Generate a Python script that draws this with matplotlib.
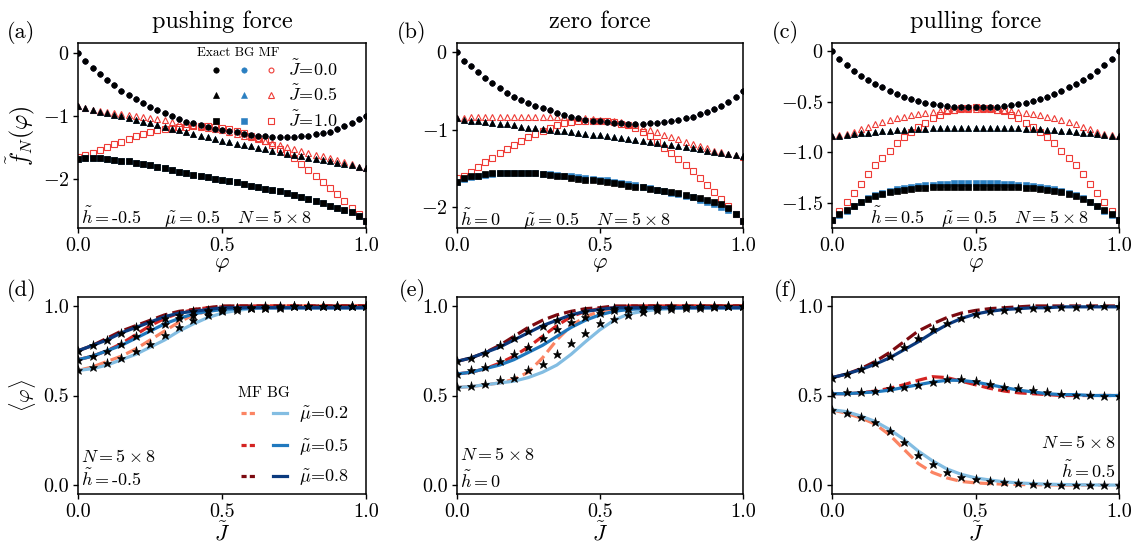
import numpy as np
import matplotlib
matplotlib.use("Agg")
import matplotlib.pyplot as plt
from matplotlib.lines import Line2D
from matplotlib.legend_handler import HandlerTuple

plt.rcParams["font.family"] = "serif"
plt.rcParams["font.serif"] = ["cmr10"]
plt.rcParams["mathtext.fontset"] = "cm"
plt.rcParams["axes.formatter.use_mathtext"] = True
plt.rcParams["axes.unicode_minus"] = False

# ─── DATA: top row, f_N(phi) at phi = k/40 ───────────────────────────────────
phi = [0.0, 0.025, 0.05, 0.075, 0.1, 0.125, 0.15, 0.175, 0.2, 0.225,
       0.25, 0.275, 0.3, 0.325, 0.35, 0.375, 0.4, 0.425, 0.45, 0.475,
       0.5, 0.525, 0.55, 0.575, 0.6, 0.625, 0.65, 0.675, 0.7, 0.725,
       0.75, 0.775, 0.8, 0.825, 0.85, 0.875, 0.9, 0.925, 0.95, 0.975, 1.0]

# (a) pushing force, h = -0.5
a_ex_j0 = [0.00, -0.13, -0.24, -0.34, -0.44, -0.52, -0.60, -0.67, -0.74, -0.80,
           -0.86, -0.91, -0.96, -1.01, -1.05, -1.09, -1.12, -1.15, -1.18, -1.20,
           -1.22, -1.24, -1.26, -1.28, -1.30, -1.31, -1.32, -1.33, -1.33, -1.33,
           -1.33, -1.32, -1.31, -1.29, -1.27, -1.25, -1.21, -1.16, -1.11, -1.05,
           -1.00]
a_ex_j05 = [-0.85, -0.88, -0.91, -0.94, -0.96, -0.99, -1.01, -1.04, -1.07, -1.09,
            -1.12, -1.15, -1.17, -1.20, -1.23, -1.25, -1.28, -1.31, -1.34, -1.36,
            -1.39, -1.41, -1.44, -1.46, -1.48, -1.51, -1.53, -1.55, -1.57, -1.60,
            -1.62, -1.64, -1.66, -1.68, -1.70, -1.72, -1.74, -1.76, -1.78, -1.81,
            -1.83]
a_ex_j1 = [-1.68, -1.67, -1.67, -1.67, -1.68, -1.70, -1.71, -1.72, -1.74, -1.76,
           -1.78, -1.80, -1.83, -1.85, -1.88, -1.90, -1.93, -1.95, -1.97, -2.00,
           -2.02, -2.03, -2.05, -2.08, -2.11, -2.13, -2.15, -2.17, -2.19, -2.22,
           -2.25, -2.28, -2.31, -2.34, -2.38, -2.42, -2.45, -2.48, -2.52, -2.58,
           -2.66]
a_mf_j05 = [-0.85, -0.88, -0.90, -0.92, -0.94, -0.96, -0.97, -0.99, -1.00, -1.02,
            -1.04, -1.05, -1.07, -1.09, -1.11, -1.13, -1.15, -1.17, -1.19, -1.21,
            -1.23, -1.26, -1.29, -1.31, -1.34, -1.37, -1.40, -1.43, -1.46, -1.49,
            -1.52, -1.55, -1.58, -1.61, -1.64, -1.67, -1.70, -1.73, -1.76, -1.80,
            -1.83]
a_mf_j1 = [-1.65, -1.62, -1.58, -1.54, -1.49, -1.45, -1.41, -1.36, -1.32, -1.29,
           -1.26, -1.23, -1.21, -1.20, -1.18, -1.17, -1.16, -1.16, -1.16, -1.17,
           -1.19, -1.21, -1.24, -1.27, -1.31, -1.35, -1.40, -1.46, -1.52, -1.59,
           -1.67, -1.76, -1.85, -1.95, -2.04, -2.14, -2.24, -2.34, -2.45, -2.55,
           -2.66]
# BG and MF at J=0 (and BG elsewhere) sit on top of the exact points
a_bg_j0, a_bg_j05, a_bg_j1 = a_ex_j0, a_ex_j05, a_ex_j1
a_mf_j0 = a_ex_j0

# (b) zero force, h = 0
b_ex_j0 = [0.00, -0.11, -0.18, -0.26, -0.33, -0.40, -0.46, -0.52, -0.57, -0.61,
           -0.65, -0.69, -0.72, -0.75, -0.78, -0.81, -0.83, -0.85, -0.87, -0.88,
           -0.89, -0.90, -0.91, -0.91, -0.92, -0.92, -0.92, -0.91, -0.91, -0.90,
           -0.88, -0.87, -0.85, -0.83, -0.80, -0.77, -0.73, -0.69, -0.64, -0.58,
           -0.50]
b_ex_j05 = [-0.85, -0.87, -0.88, -0.89, -0.90, -0.91, -0.92, -0.93, -0.94, -0.96,
            -0.97, -0.98, -0.99, -1.00, -1.01, -1.02, -1.03, -1.04, -1.05, -1.06,
            -1.07, -1.08, -1.09, -1.10, -1.12, -1.13, -1.14, -1.15, -1.17, -1.18,
            -1.19, -1.21, -1.22, -1.24, -1.25, -1.27, -1.28, -1.30, -1.31, -1.33,
            -1.34]
b_ex_j1 = [-1.67, -1.62, -1.60, -1.59, -1.57, -1.56, -1.56, -1.55, -1.55, -1.55,
           -1.55, -1.56, -1.57, -1.58, -1.59, -1.60, -1.62, -1.63, -1.64, -1.65,
           -1.66, -1.67, -1.69, -1.70, -1.72, -1.73, -1.74, -1.76, -1.77, -1.79,
           -1.80, -1.82, -1.84, -1.86, -1.88, -1.90, -1.93, -1.96, -2.01, -2.08,
           -2.17]
b_bg_j1 = [-1.67, -1.63, -1.61, -1.59, -1.58, -1.57, -1.56, -1.56, -1.56, -1.56,
           -1.56, -1.56, -1.57, -1.57, -1.58, -1.59, -1.60, -1.61, -1.62, -1.63,
           -1.64, -1.65, -1.67, -1.68, -1.70, -1.71, -1.73, -1.75, -1.77, -1.79,
           -1.81, -1.83, -1.85, -1.87, -1.90, -1.93, -1.96, -1.99, -2.03, -2.09,
           -2.17]
b_mf_j05 = [-0.85, -0.85, -0.84, -0.84, -0.84, -0.83, -0.83, -0.83, -0.83, -0.83,
            -0.83, -0.83, -0.83, -0.83, -0.83, -0.84, -0.84, -0.85, -0.85, -0.86,
            -0.87, -0.88, -0.89, -0.90, -0.92, -0.94, -0.97, -1.00, -1.03, -1.06,
            -1.09, -1.12, -1.15, -1.18, -1.21, -1.24, -1.27, -1.29, -1.31, -1.33,
            -1.35]
b_mf_j1 = [-1.62, -1.59, -1.54, -1.48, -1.42, -1.36, -1.30, -1.25, -1.19, -1.14,
           -1.09, -1.05, -1.01, -0.97, -0.94, -0.91, -0.90, -0.89, -0.88, -0.88,
           -0.88, -0.89, -0.90, -0.92, -0.94, -0.98, -1.03, -1.08, -1.15, -1.23,
           -1.30, -1.37, -1.45, -1.53, -1.62, -1.71, -1.80, -1.89, -1.98, -2.08,
           -2.17]
b_bg_j0, b_bg_j05 = b_ex_j0, b_ex_j05
b_mf_j0 = b_ex_j0

# (c) pulling force, h = 0.5
c_ex_j0 = [0.00, -0.08, -0.14, -0.20, -0.25, -0.29, -0.33, -0.36, -0.39, -0.42,
           -0.45, -0.47, -0.49, -0.51, -0.52, -0.53, -0.54, -0.55, -0.55, -0.55,
           -0.55, -0.55, -0.55, -0.55, -0.54, -0.53, -0.52, -0.51, -0.49, -0.47,
           -0.45, -0.42, -0.39, -0.36, -0.33, -0.29, -0.25, -0.20, -0.14, -0.08,
           0.00]
c_ex_j05 = [-0.84, -0.84, -0.83, -0.82, -0.81, -0.81, -0.80, -0.79, -0.79, -0.78,
            -0.78, -0.77, -0.77, -0.77, -0.76, -0.76, -0.76, -0.76, -0.76, -0.76,
            -0.76, -0.76, -0.76, -0.76, -0.76, -0.76, -0.76, -0.77, -0.77, -0.77,
            -0.78, -0.78, -0.79, -0.79, -0.80, -0.81, -0.81, -0.82, -0.83, -0.84,
            -0.84]
c_ex_j1 = [-1.67, -1.61, -1.57, -1.53, -1.49, -1.46, -1.43, -1.41, -1.39, -1.38,
           -1.37, -1.36, -1.35, -1.35, -1.34, -1.34, -1.34, -1.34, -1.34, -1.34,
           -1.34, -1.34, -1.34, -1.34, -1.34, -1.34, -1.34, -1.35, -1.35, -1.36,
           -1.37, -1.38, -1.39, -1.41, -1.43, -1.46, -1.49, -1.53, -1.57, -1.61,
           -1.67]
c_bg_j1 = [-1.67, -1.62, -1.58, -1.53, -1.49, -1.45, -1.42, -1.40, -1.38, -1.36,
           -1.35, -1.34, -1.33, -1.32, -1.32, -1.31, -1.31, -1.30, -1.30, -1.30,
           -1.30, -1.30, -1.30, -1.30, -1.31, -1.31, -1.32, -1.32, -1.33, -1.34,
           -1.35, -1.36, -1.38, -1.40, -1.42, -1.45, -1.49, -1.53, -1.58, -1.62,
           -1.67]
c_mf_j05 = [-0.84, -0.83, -0.82, -0.80, -0.77, -0.75, -0.72, -0.70, -0.68, -0.66,
            -0.65, -0.63, -0.62, -0.61, -0.60, -0.59, -0.58, -0.58, -0.57, -0.57,
            -0.57, -0.57, -0.57, -0.58, -0.58, -0.59, -0.60, -0.61, -0.62, -0.63,
            -0.65, -0.66, -0.68, -0.70, -0.72, -0.75, -0.77, -0.80, -0.82, -0.83,
            -0.84]
c_mf_j1 = [-1.67, -1.58, -1.49, -1.40, -1.31, -1.22, -1.13, -1.06, -0.99, -0.91,
           -0.85, -0.80, -0.75, -0.71, -0.66, -0.63, -0.59, -0.58, -0.56, -0.56,
           -0.55, -0.56, -0.56, -0.58, -0.59, -0.63, -0.66, -0.71, -0.75, -0.80,
           -0.85, -0.91, -0.99, -1.06, -1.13, -1.22, -1.31, -1.40, -1.49, -1.58,
           -1.67]
c_bg_j0, c_bg_j05 = c_ex_j0, c_ex_j05
c_mf_j0 = c_ex_j0

# ─── DATA: bottom row, <phi> vs J ────────────────────────────────────────────
J = [0.0, 0.05, 0.1, 0.15, 0.2, 0.25, 0.3, 0.35, 0.4, 0.45,
     0.5, 0.55, 0.6, 0.65, 0.7, 0.75, 0.8, 0.85, 0.9, 0.95, 1.0]

# (d) h = -0.5
d_bg_02 = [0.64, 0.65, 0.67, 0.70, 0.73, 0.77, 0.81, 0.86, 0.90, 0.935, 0.96,
           0.975, 0.985, 0.99, 0.99, 0.99, 0.99, 0.99, 0.99, 0.99, 0.99]
d_mf_02 = [0.64, 0.66, 0.69, 0.72, 0.76, 0.81, 0.86, 0.91, 0.95, 0.97, 0.985,
           0.99, 0.995, 1.0, 1.0, 1.0, 1.0, 1.0, 1.0, 1.0, 1.0]
d_ex_02 = [0.64, 0.66, 0.68, 0.71, 0.75, 0.79, 0.84, 0.88, 0.92, 0.95, 0.97,
           0.98, 0.99, 0.99, 0.99, 1.0, 1.0, 1.0, 1.0, 1.0, 1.0]
d_bg_05 = [0.70, 0.72, 0.75, 0.78, 0.82, 0.86, 0.90, 0.93, 0.955, 0.97, 0.98,
           0.985, 0.99, 0.99, 0.99, 0.99, 0.99, 0.99, 0.99, 0.99, 0.99]
d_mf_05 = [0.70, 0.72, 0.75, 0.79, 0.84, 0.89, 0.93, 0.96, 0.98, 0.99, 0.995,
           1.0, 1.0, 1.0, 1.0, 1.0, 1.0, 1.0, 1.0, 1.0, 1.0]
d_ex_05 = [0.70, 0.72, 0.75, 0.79, 0.83, 0.87, 0.90, 0.93, 0.95, 0.97, 0.98,
           0.99, 0.99, 0.99, 0.995, 1.0, 1.0, 1.0, 1.0, 1.0, 1.0]
d_bg_08 = [0.75, 0.78, 0.81, 0.85, 0.88, 0.91, 0.94, 0.96, 0.97, 0.98, 0.99,
           0.99, 0.99, 0.99, 0.99, 0.99, 0.99, 0.99, 0.99, 0.99, 0.99]
d_mf_08 = [0.75, 0.78, 0.82, 0.86, 0.89, 0.92, 0.95, 0.97, 0.98, 0.99, 1.0,
           1.0, 1.0, 1.0, 1.0, 1.0, 1.0, 1.0, 1.0, 1.0, 1.0]
d_ex_08 = [0.75, 0.78, 0.81, 0.85, 0.88, 0.91, 0.93, 0.95, 0.97, 0.98, 0.99,
           0.99, 0.995, 1.0, 1.0, 1.0, 1.0, 1.0, 1.0, 1.0, 1.0]

# (e) h = 0
e_bg_02 = [0.545, 0.55, 0.56, 0.57, 0.58, 0.60, 0.63, 0.67, 0.73, 0.80, 0.866,
           0.92, 0.955, 0.97, 0.98, 0.985, 0.99, 0.99, 0.99, 0.99, 0.99]
e_mf_02 = [0.545, 0.55, 0.56, 0.57, 0.59, 0.63, 0.71, 0.81, 0.89, 0.94, 0.97,
           0.985, 0.99, 1.0, 1.0, 1.0, 1.0, 1.0, 1.0, 1.0, 1.0]
e_ex_02 = [0.545, 0.553, 0.565, 0.587, 0.60, 0.64, 0.675, 0.73, 0.795, 0.85, 0.905,
           0.925, 0.95, 0.965, 0.98, 0.985, 0.99, 0.99, 0.995, 1.0, 1.0]
e_bg_05 = [0.62, 0.63, 0.65, 0.67, 0.70, 0.74, 0.78, 0.83, 0.88, 0.92, 0.95,
           0.97, 0.98, 0.985, 0.99, 0.99, 0.99, 0.99, 0.99, 0.99, 0.99]
e_mf_05 = [0.62, 0.63, 0.65, 0.68, 0.72, 0.77, 0.83, 0.89, 0.94, 0.97, 0.985,
           0.99, 1.0, 1.0, 1.0, 1.0, 1.0, 1.0, 1.0, 1.0, 1.0]
e_ex_05 = [0.62, 0.64, 0.66, 0.69, 0.73, 0.77, 0.82, 0.87, 0.91, 0.94, 0.96,
           0.975, 0.985, 0.99, 0.99, 0.995, 1.0, 1.0, 1.0, 1.0, 1.0]
e_bg_08 = [0.69, 0.71, 0.74, 0.77, 0.81, 0.85, 0.89, 0.92, 0.95, 0.97, 0.98,
           0.99, 0.99, 0.99, 0.99, 0.99, 0.99, 0.99, 0.99, 0.99, 0.99]
e_mf_08 = [0.69, 0.71, 0.74, 0.78, 0.83, 0.88, 0.92, 0.95, 0.97, 0.985, 0.99,
           1.0, 1.0, 1.0, 1.0, 1.0, 1.0, 1.0, 1.0, 1.0, 1.0]
e_ex_08 = [0.69, 0.71, 0.74, 0.78, 0.82, 0.86, 0.89, 0.92, 0.95, 0.97, 0.98,
           0.99, 0.99, 0.995, 1.0, 1.0, 1.0, 1.0, 1.0, 1.0, 1.0]

# (f) h = 0.5
f_bg_02 = [0.42, 0.41, 0.385, 0.355, 0.31, 0.255, 0.19, 0.135, 0.09, 0.06, 0.04,
           0.028, 0.018, 0.012, 0.008, 0.005, 0.003, 0.002, 0.001, 0.0, 0.0]
f_mf_02 = [0.42, 0.40, 0.375, 0.34, 0.28, 0.20, 0.12, 0.07, 0.04, 0.02, 0.012,
           0.008, 0.005, 0.003, 0.002, 0.001, 0.0, 0.0, 0.0, 0.0, 0.0]
f_ex_02 = [0.42, 0.405, 0.38, 0.35, 0.30, 0.24, 0.17, 0.117, 0.075, 0.047, 0.034,
           0.024, 0.015, 0.01, 0.006, 0.004, 0.003, 0.002, 0.001, 0.0, 0.0]
f_bg_05 = [0.51, 0.51, 0.515, 0.52, 0.53, 0.545, 0.56, 0.575, 0.585, 0.585, 0.575,
           0.56, 0.545, 0.53, 0.52, 0.51, 0.505, 0.505, 0.50, 0.50, 0.50]
f_mf_05 = [0.51, 0.51, 0.515, 0.525, 0.54, 0.56, 0.585, 0.605, 0.60, 0.58, 0.56,
           0.54, 0.525, 0.515, 0.51, 0.505, 0.50, 0.50, 0.50, 0.50, 0.50]
f_ex_05 = [0.51, 0.518, 0.52, 0.525, 0.54, 0.545, 0.56, 0.577, 0.59, 0.59, 0.58,
           0.565, 0.55, 0.54, 0.53, 0.52, 0.51, 0.505, 0.505, 0.50, 0.50]
f_bg_08 = [0.60, 0.62, 0.645, 0.675, 0.71, 0.755, 0.80, 0.85, 0.895, 0.93, 0.955,
           0.97, 0.98, 0.985, 0.99, 0.99, 0.995, 0.995, 0.995, 0.995, 0.995]
f_mf_08 = [0.60, 0.62, 0.65, 0.69, 0.74, 0.80, 0.86, 0.90, 0.935, 0.96, 0.975,
           0.985, 0.99, 0.995, 1.0, 1.0, 1.0, 1.0, 1.0, 1.0, 1.0]
f_ex_08 = [0.60, 0.62, 0.646, 0.68, 0.72, 0.77, 0.82, 0.87, 0.905, 0.935, 0.955,
           0.97, 0.98, 0.985, 0.99, 0.99, 0.995, 0.995, 1.0, 1.0, 1.0]

# ─── STYLE ───────────────────────────────────────────────────────────────────
BG_BLUE = "#2a7fc1"
MF_RED = "#ee3b36"
MARKERS = ["o", "^", "s"]
MF_SIZES = [3.5, 4.3, 4.3]
J_LABELS = [r"$\tilde{J}\!=\!0.0$", r"$\tilde{J}\!=\!0.5$", r"$\tilde{J}\!=\!1.0$"]
MF_COLORS = ["#fb8463", "#d42422", "#7c0a10"]
BG_COLORS = ["#83bde2", "#2079be", "#0b3a7e"]
MU_LABELS = [r"$\tilde{\mu}\!=\!0.2$", r"$\tilde{\mu}\!=\!0.5$", r"$\tilde{\mu}\!=\!0.8$"]
FS = 13
TICK_FS = 14.5
EX_KW = dict(ls="none", ms=3.9, mew=0.5, color="black")
BG_KW = dict(ls="none", ms=3.9, mew=0.4, color=BG_BLUE)
MF_KW = dict(ls="none", mfc="none", mec=MF_RED, mew=0.8)

W, H = 1134, 543


def px_axes(fig, x0, y0, x1, y1):
    """Axes from pixel box (top-left origin)."""
    return fig.add_axes([x0 / W, 1 - y1 / H, (x1 - x0) / W, (y1 - y0) / H])


def plot_top(ax, ex, bg, mf):
    # MF underneath, exact on top
    for k in range(3):
        ax.plot(phi, mf[k], marker=MARKERS[k], ms=MF_SIZES[k], **MF_KW)
    for k in range(3):
        ax.plot(phi, bg[k], marker=MARKERS[k], **BG_KW)
    for k in range(3):
        ax.plot(phi, ex[k], marker=MARKERS[k], **EX_KW)
    ax.set_xlim(0, 1)
    ax.set_xticks([0, 0.5, 1.0])
    ax.set_xticklabels(["0.0", "0.5", "1.0"])
    ax.set_xlabel(r"$\varphi$", fontsize=16, labelpad=0)


def plot_bottom(ax, ex, bg, mf):
    for k in range(3):
        ax.plot(J, mf[k], ls="--", lw=2.3, color=MF_COLORS[k])
    for k in range(3):
        ax.plot(J, bg[k], ls="-", lw=2.3, color=BG_COLORS[k])
    for k in range(3):
        ax.plot(J, ex[k], ls="none", marker="*", ms=6.5, mew=0.4, color="black")
    ax.set_xlim(0, 1)
    ax.set_ylim(-0.05, 1.05)
    ax.set_xticks([0, 0.5, 1.0])
    ax.set_xticklabels(["0.0", "0.5", "1.0"])
    ax.set_yticks([0, 0.5, 1.0])
    ax.set_yticklabels(["0.0", "0.5", "1.0"])
    ax.set_xlabel(r"$\tilde{J}$", fontsize=16, labelpad=0)


fig = plt.figure(figsize=(W / 100, H / 100), dpi=100)

ax_a = px_axes(fig, 78.3, 43, 366, 228)
ax_b = px_axes(fig, 456.7, 43, 742.7, 228)
ax_c = px_axes(fig, 832.3, 43, 1118.7, 228)
ax_d = px_axes(fig, 78.3, 297, 366, 494)
ax_e = px_axes(fig, 456.7, 297, 742.7, 494)
ax_f = px_axes(fig, 832.3, 297, 1118.7, 494)

plot_top(ax_a, [a_ex_j0, a_ex_j05, a_ex_j1], [a_bg_j0, a_bg_j05, a_bg_j1],
         [a_mf_j0, a_mf_j05, a_mf_j1])
plot_top(ax_b, [b_ex_j0, b_ex_j05, b_ex_j1], [b_bg_j0, b_bg_j05, b_bg_j1],
         [b_mf_j0, b_mf_j05, b_mf_j1])
plot_top(ax_c, [c_ex_j0, c_ex_j05, c_ex_j1], [c_bg_j0, c_bg_j05, c_bg_j1],
         [c_mf_j0, c_mf_j05, c_mf_j1])

ax_a.set_ylim(-2.77, 0.15)
ax_a.set_yticks([0, -1, -2])
ax_a.set_yticklabels([r"$0$", r"$-1$", r"$-2$"])
ax_b.set_ylim(-2.265, 0.12)
ax_b.set_yticks([0, -1, -2])
ax_b.set_yticklabels([r"$0$", r"$-1$", r"$-2$"])
ax_c.set_ylim(-1.75, 0.08)
ax_c.set_yticks([0, -0.5, -1.0, -1.5])
ax_c.set_yticklabels([r"$0$", r"$-0.5$", r"$-1.0$", r"$-1.5$"])
ax_a.set_ylabel(r"$\tilde{f}_N(\varphi)$", fontsize=17, labelpad=4)

plot_bottom(ax_d, [d_ex_02, d_ex_05, d_ex_08], [d_bg_02, d_bg_05, d_bg_08],
            [d_mf_02, d_mf_05, d_mf_08])
plot_bottom(ax_e, [e_ex_02, e_ex_05, e_ex_08], [e_bg_02, e_bg_05, e_bg_08],
            [e_mf_02, e_mf_05, e_mf_08])
plot_bottom(ax_f, [f_ex_02, f_ex_05, f_ex_08], [f_bg_02, f_bg_05, f_bg_08],
            [f_mf_02, f_mf_05, f_mf_08])
ax_d.set_ylabel(r"$\langle\varphi\rangle$", fontsize=15, labelpad=4)

for ax in [ax_a, ax_b, ax_c, ax_d, ax_e, ax_f]:
    ax.tick_params(labelsize=TICK_FS, length=3.5, width=1, pad=3)
    for s in ax.spines.values():
        s.set_linewidth(1.1)

# titles and panel letters
for ax, t in zip([ax_a, ax_b, ax_c], ["pushing force", "zero force", "pulling force"]):
    ax.set_title(t, fontsize=17.5, pad=11)
for x, y, lab in [(7, 33, "(a)"), (397, 33, "(b)"), (772, 33, "(c)"),
                  (7, 290, "(d)"), (399, 290, "(e)"), (774, 290, "(f)")]:
    fig.text(x / W, 1 - y / H, lab, fontsize=16, va="center", ha="left")

# parameter annotations
ax_a.text(0.01, 0.055, r"$\tilde{h}=$-$0.5$    $\tilde{\mu}=0.5$   $N=5\times8$",
          transform=ax_a.transAxes, fontsize=FS, va="center")
ax_b.text(0.01, 0.045, r"$\tilde{h}=0$    $\tilde{\mu}=0.5$   $N=5\times8$",
          transform=ax_b.transAxes, fontsize=FS, va="center")
ax_c.text(0.13, 0.055, r"$\tilde{h}=0.5$   $\tilde{\mu}=0.5$   $N=5\times8$",
          transform=ax_c.transAxes, fontsize=FS, va="center")
ax_d.text(0.01, 0.19, r"$N=5\times8$", transform=ax_d.transAxes, fontsize=FS, va="center")
ax_d.text(0.01, 0.08, r"$\tilde{h}=$-$0.5$", transform=ax_d.transAxes, fontsize=FS, va="center")
ax_e.text(0.01, 0.20, r"$N=5\times8$", transform=ax_e.transAxes, fontsize=FS, va="center")
ax_e.text(0.01, 0.07, r"$\tilde{h}=0$", transform=ax_e.transAxes, fontsize=FS, va="center")
ax_f.text(0.99, 0.26, r"$N=5\times8$", transform=ax_f.transAxes, fontsize=FS, va="center", ha="right")
ax_f.text(0.99, 0.12, r"$\tilde{h}=0.5$", transform=ax_f.transAxes, fontsize=FS, va="center", ha="right")

# legend (a): Exact / BG / MF markers
top_handles = []
for k in range(3):
    h_ex = Line2D([], [], marker=MARKERS[k], **EX_KW)
    h_bg = Line2D([], [], marker=MARKERS[k], **BG_KW)
    h_mf = Line2D([], [], marker=MARKERS[k], ms=MF_SIZES[k], **MF_KW)
    top_handles.append((h_ex, h_bg, h_mf))
ax_a.legend(top_handles, J_LABELS, handler_map={tuple: HandlerTuple(ndivide=None, pad=0)},
            loc="upper left", bbox_to_anchor=(0.43, 0.915), frameon=False, fontsize=FS,
            handlelength=4.6, handletextpad=0.15, labelspacing=0.3, borderpad=0,
            borderaxespad=0)
ax_a.text(0.555, 0.945, "Exact BG MF", transform=ax_a.transAxes, fontsize=9.5,
          ha="center", va="center")

# legend (d): MF dashed / BG solid
bot_handles = []
for k in range(3):
    h_mf = Line2D([], [], ls=(0, (1.6, 1.0)), lw=2.3, color=MF_COLORS[k])
    h_bg = Line2D([], [], ls="-", lw=2.3, color=BG_COLORS[k])
    bot_handles.append((h_mf, h_bg))
ax_d.legend(bot_handles, MU_LABELS, handler_map={tuple: HandlerTuple(ndivide=None, pad=0.94)},
            loc="upper left", bbox_to_anchor=(0.566, 0.453), frameon=False, fontsize=FS,
            handlelength=2.55, handletextpad=0.67, labelspacing=0.62, borderpad=0,
            borderaxespad=0)
ax_d.text(0.645, 0.513, "MF BG", transform=ax_d.transAxes, fontsize=11,
          ha="center", va="center")

fig.savefig("out.png", dpi=100)
